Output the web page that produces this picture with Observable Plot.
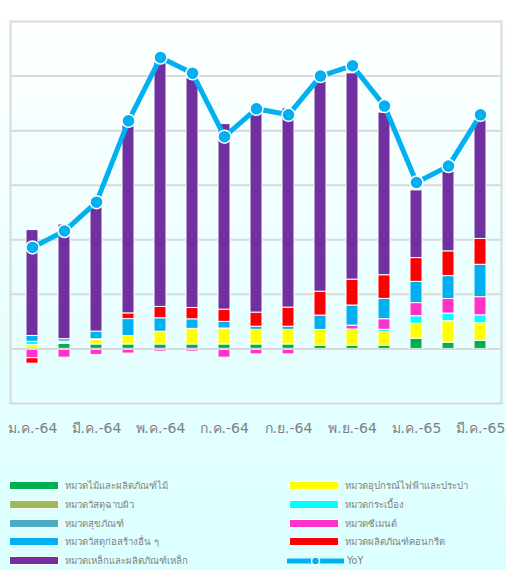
<!DOCTYPE html>
<html>
<head>
<meta charset="utf-8">
<script src="https://cdn.jsdelivr.net/npm/d3@7"></script>
<script src="https://cdn.jsdelivr.net/npm/@observablehq/plot@0.6"></script>
<style>
  html, body { margin: 0; padding: 0; }
  body {
    width: 506px; height: 570px; overflow: hidden; position: relative;
    background: linear-gradient(to bottom, #ffffff 0px, #e6ffff 360px, #dcffff 570px);
    font-family: Tahoma, "DejaVu Sans", "Noto Sans", sans-serif;
  }
  #chart { position: absolute; left: 0; top: 0; }
  #legend { position: absolute; left: 0; top: 476px; width: 506px; height: 94px; }
  .item { position: absolute; height: 19px; display: flex; align-items: center; font-size: 9.6px; color: #7f7f7f; white-space: nowrap; }
  .sw { width: 48px; height: 7px; border: 1px solid #fff; margin-right: 6px; }
</style>
</head>
<body>
<div id="chart"></div>
<div id="legend"></div>
<script>
const months = ["ม.ค.-64","ก.พ.-64","มี.ค.-64","เม.ย.-64","พ.ค.-64","มิ.ย.-64","ก.ค.-64","ส.ค.-64","ก.ย.-64","ต.ค.-64","พ.ย.-64","ธ.ค.-64","ม.ค.-65","ก.พ.-65","มี.ค.-65"];
const tickLabels = ["ม.ค.-64","มี.ค.-64","พ.ค.-64","ก.ค.-64","ก.ย.-64","พ.ย.-64","ม.ค.-65","มี.ค.-65"];

const seriesNames = ["หมวดไม้และผลิตภัณฑ์ไม้","หมวดอุปกรณ์ไฟฟ้าและประปา","หมวดวัสดุฉาบผิว","หมวดกระเบื้อง","หมวดสุขภัณฑ์","หมวดซีเมนต์","หมวดวัสดุก่อสร้างอื่น ๆ","หมวดผลิตภัณฑ์คอนกรีต","หมวดเหล็กและผลิตภัณฑ์เหล็ก"];
const seriesColors = ["#00b050","#ffff00","#9bbb59","#00ffff","#4bacc6","#ff33cc","#00b0f0","#ff0000","#7030a0"];

const wood     = [0, 0.9, 0.82, 0.82, 0.82, 0.82, 0.82, 0.82, 0.82, 0.6, 0.6, 0.6, 1.86, 1.15, 1.46];
const electric = [0.7, 0.2, 0.8, 1.55, 2.34, 2.86, 2.92, 2.68, 2.68, 2.88, 2.97, 2.52, 2.74, 3.92, 3.25];
const coating  = [0, 0, 0, 0, 0, 0, 0, 0, 0, 0, 0, 0, 0, 0, 0];
const tile     = [0.6, 0.25, 0.15, 0, 0, 0, 0, 0, 0, 0, 0, 0.4, 1.39, 1.4, 1.44];
const sanitary = [0, 0, 0, 0, 0, 0, 0, 0, 0, 0, 0, 0, 0, 0, 0];
const cement   = [-1.7, -1.6, -1.1, -0.85, -0.5, -0.5, -1.6, -1.0, -1.0, 0, 0.7, 1.93, 2.41, 2.68, 3.34];
const other    = [1.08, 0.45, 1.4, 3.1, 2.46, 1.75, 1.22, 0.57, 0.57, 2.63, 3.69, 3.72, 3.89, 4.2, 5.93];
const concrete = [-1.0, 0, 0, 1.04, 2.08, 2.08, 2.24, 2.59, 3.5, 4.38, 4.74, 4.34, 4.36, 4.53, 4.74];
const steel    = [19.4, 21.0, 23.6, 34.5, 44.9, 42.1, 34.0, 36.95, 36.5, 38.7, 37.8, 29.8, 12.4, 14.65, 21.8];
const yoy      = [18.6, 21.6, 26.9, 41.8, 53.4, 50.5, 38.9, 44.0, 42.9, 50.0, 51.9, 44.5, 30.5, 33.5, 42.9];

const seriesValues = [wood, electric, coating, tile, sanitary, cement, other, concrete, steel];

const barData = [];
seriesNames.forEach((name, s) => {
  months.forEach((m, i) => barData.push({month: m, series: name, value: seriesValues[s][i]}));
});
const lineData = months.map((m, i) => ({month: m, value: yoy[i]}));

const chart = Plot.plot({
  width: 506,
  height: 450,
  marginLeft: 10,
  marginRight: 5,
  marginTop: 21,
  marginBottom: 47,
  style: {background: "transparent", fontFamily: "Tahoma, 'DejaVu Sans', 'Noto Sans', sans-serif"},
  x: {domain: months, paddingInner: 0.63, paddingOuter: 0.315, axis: null},
  y: {domain: [-10, 60], axis: null},
  color: {domain: seriesNames, range: seriesColors},
  marks: [
    Plot.ruleY([10, 20, 30, 40, 50], {stroke: "#d9d9d9", strokeWidth: 2}),
    Plot.barY(barData, Plot.stackY({x: "month", y: "value", fill: "series", z: "series", order: seriesNames, stroke: "#ffffff", strokeWidth: 1})),
    Plot.ruleY([0], {stroke: "#d9d9d9", strokeWidth: 2}),
    Plot.line(lineData, {x: "month", y: "value", stroke: "#00b0f0", strokeWidth: 5}),
    Plot.dot(lineData, {x: "month", y: "value", r: 6.5, fill: "#00b0f0", stroke: "#ffffff", strokeWidth: 1.5}),
    Plot.frame({stroke: "#d9d9d9", strokeWidth: 2}),
    Plot.axisX({ticks: tickLabels, tickSize: 0, tickPadding: 20, fontSize: 14, fill: "#7f7f7f", label: null})
  ]
});
document.getElementById("chart").appendChild(chart);

const legend = document.getElementById("legend");
const legendItems = seriesNames.map((n, i) => ({name: n, color: seriesColors[i]}));
legendItems.forEach((it, i) => {
  const col = i % 2, row = Math.floor(i / 2);
  const div = document.createElement("div");
  div.className = "item";
  div.style.left = (col ? 289 : 9) + "px";
  div.style.top = (row * 18.8) + "px";
  div.innerHTML = `<span class="sw" style="background:${it.color}"></span><span>${it.name}</span>`;
  legend.appendChild(div);
});
const yDiv = document.createElement("div");
yDiv.className = "item";
yDiv.style.left = "287px";
yDiv.style.top = (4 * 18.8) + "px";
yDiv.innerHTML = `<svg width="57" height="10" style="margin-right:3px"><line x1="1" y1="5" x2="56" y2="5" stroke="#00b0f0" stroke-width="5" stroke-linecap="round"/><circle cx="28.5" cy="5" r="4" fill="#00b0f0" stroke="#fff" stroke-width="1.5"/></svg><span>YoY</span>`;
legend.appendChild(yDiv);
</script>
</body>
</html>
